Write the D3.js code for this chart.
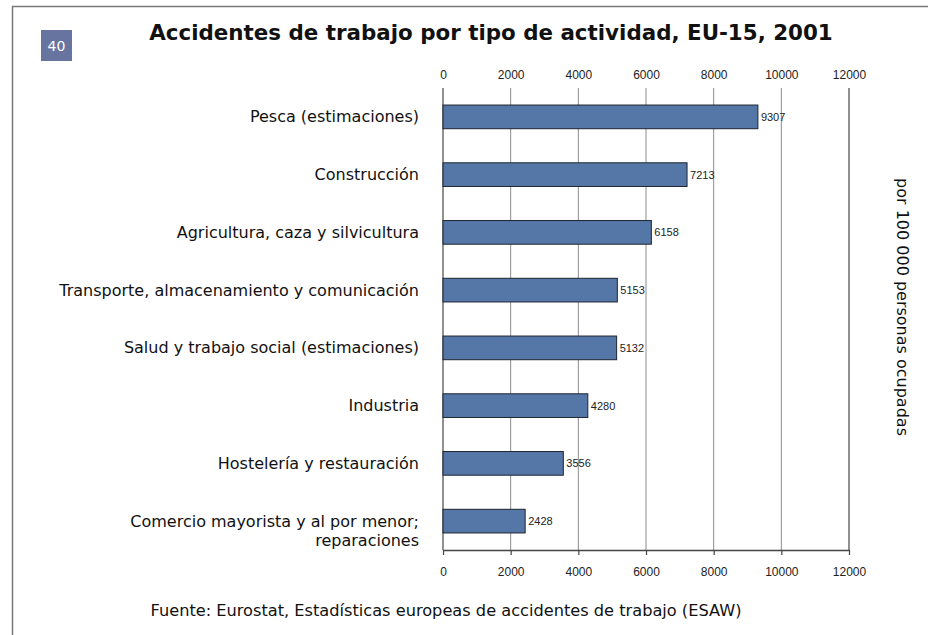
<!DOCTYPE html>
<html>
<head>
<meta charset="utf-8">
<script src="https://cdn.jsdelivr.net/npm/d3@7"></script>
<style>
  html, body { margin: 0; padding: 0; background: #fff; }
  svg { display: block; }
</style>
</head>
<body>
<svg id="chart" width="928" height="635"></svg>
<script>
// Accident rate per 100 000 employed, by activity (EU-15, 2001)
const categories = [
  "Pesca (estimaciones)",
  "Construcción",
  "Agricultura, caza y silvicultura",
  "Transporte, almacenamiento y comunicación",
  "Salud y trabajo social (estimaciones)",
  "Industria",
  "Hostelería y restauración",
  "Comercio mayorista y al por menor; reparaciones"
];
const values = [9307, 7213, 6158, 5153, 5132, 4280, 3556, 2428];
const tickValues = [0, 2000, 4000, 6000, 8000, 10000, 12000];

const titleText = "Accidentes de trabajo por tipo de actividad, EU-15, 2001";
const unitText = "por 100 000 personas ocupadas";
const sourceText = "Fuente: Eurostat, Estadísticas europeas de accidentes de trabajo (ESAW)";
const pageNumber = "40";

const svg = d3.select("#chart");
const W = 928, H = 635;
const plot = { left: 443, right: 849, top: 88, bottom: 550 };

const bodyFont = "Verdana, 'DejaVu Sans', sans-serif";
const numFont = "'Liberation Sans', Arial, sans-serif";

// page frame (left and top edges)
svg.append("path")
  .attr("d", `M12.5,${H} V6.5 H${W}`)
  .attr("fill", "none")
  .attr("stroke", "#7a7a7a")
  .attr("stroke-width", 1.5);

// page number badge
svg.append("rect")
  .attr("x", 41).attr("y", 30).attr("width", 31).attr("height", 31)
  .attr("fill", "#6874a0");
svg.append("text")
  .attr("x", 56.5).attr("y", 46)
  .attr("text-anchor", "middle").attr("dominant-baseline", "central")
  .attr("font-family", bodyFont).attr("font-size", 14)
  .attr("fill", "#fff")
  .text(pageNumber);

// title
svg.append("text")
  .attr("x", 491).attr("y", 40)
  .attr("text-anchor", "middle")
  .attr("font-family", bodyFont).attr("font-weight", "bold").attr("font-size", 21.4)
  .attr("fill", "#111")
  .text(titleText);

const x = d3.scaleLinear().domain([0, 12000]).range([plot.left, plot.right]);
const y = d3.scaleBand().domain(categories).range([plot.top, plot.bottom]).paddingInner(0.59).paddingOuter(0.295);

// vertical gridlines
svg.append("g")
  .selectAll("line")
  .data(tickValues.slice(1, -1))
  .join("line")
  .attr("x1", d => x(d)).attr("x2", d => x(d))
  .attr("y1", plot.top).attr("y2", plot.bottom)
  .attr("stroke", "#8c8c8c").attr("stroke-width", 1);

// left and right plot edges
svg.append("g")
  .selectAll("line")
  .data([0, 12000])
  .join("line")
  .attr("x1", d => x(d)).attr("x2", d => x(d))
  .attr("y1", plot.top).attr("y2", plot.bottom)
  .attr("stroke", "#555").attr("stroke-width", 1.3);

// bottom axis with ticks
const xAxisBottom = d3.axisBottom(x).tickValues(tickValues).tickSize(5).tickSizeOuter(0).tickPadding(12).tickFormat(d3.format("d"));
const gb = svg.append("g").attr("transform", `translate(0,${plot.bottom})`).call(xAxisBottom);
gb.select(".domain").attr("stroke", "#444").attr("stroke-width", 1.3);
gb.selectAll(".tick line").attr("stroke", "#444").attr("stroke-width", 1.2);
gb.selectAll(".tick text").attr("font-family", numFont).attr("font-size", 12).attr("fill", "#222");

// top axis labels only
const xAxisTop = d3.axisTop(x).tickValues(tickValues).tickSize(0).tickPadding(9).tickFormat(d3.format("d"));
const gt = svg.append("g").attr("transform", `translate(0,${plot.top})`).call(xAxisTop);
gt.select(".domain").remove();
gt.selectAll(".tick text").attr("font-family", numFont).attr("font-size", 12).attr("fill", "#222");

// bars
svg.append("g")
  .selectAll("rect")
  .data(values)
  .join("rect")
  .attr("x", x(0))
  .attr("y", (d, i) => y(categories[i]))
  .attr("width", d => x(d) - x(0))
  .attr("height", y.bandwidth())
  .attr("fill", "#5577a7")
  .attr("stroke", "#1e2430")
  .attr("stroke-width", 1);

// value labels
svg.append("g")
  .selectAll("text")
  .data(values)
  .join("text")
  .attr("x", d => x(d) + 3)
  .attr("y", (d, i) => y(categories[i]) + y.bandwidth() / 2)
  .attr("dominant-baseline", "central")
  .attr("font-family", numFont).attr("font-size", 11)
  .attr("fill", "#222")
  .text(d => d);

// category labels (the last one wraps after the semicolon)
const labelG = svg.append("g");
categories.forEach((c, i) => {
  const cy = y(c) + y.bandwidth() / 2;
  const lines = c.includes("; ") ? [c.split("; ")[0] + ";", c.split("; ")[1]] : [c];
  lines.forEach((ln, k) => {
    labelG.append("text")
      .attr("x", 419)
      .attr("y", cy + k * 19)
      .attr("text-anchor", "end")
      .attr("dominant-baseline", "central")
      .attr("font-family", bodyFont).attr("font-size", 16)
      .attr("fill", "#111")
      .text(ln);
  });
});

// unit label on the right
svg.append("text")
  .attr("transform", `translate(902,307) rotate(90)`)
  .attr("text-anchor", "middle")
  .attr("dominant-baseline", "central")
  .attr("font-family", bodyFont).attr("font-size", 16)
  .attr("fill", "#111")
  .text(unitText);

// source note
svg.append("text")
  .attr("x", 446).attr("y", 610)
  .attr("text-anchor", "middle")
  .attr("dominant-baseline", "central")
  .attr("font-family", bodyFont).attr("font-size", 16.2)
  .attr("fill", "#111")
  .text(sourceText);
</script>
</body>
</html>
